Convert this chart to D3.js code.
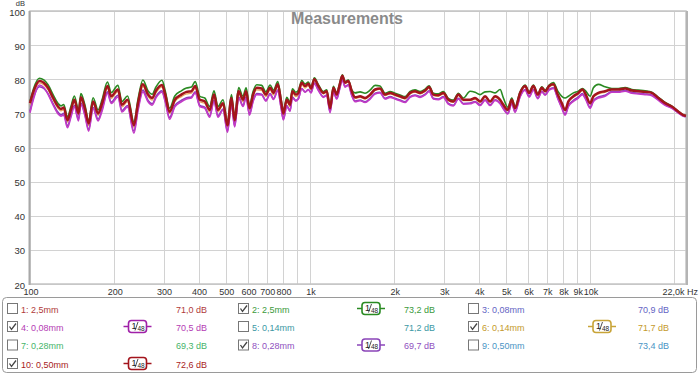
<!DOCTYPE html>
<html>
<head>
<meta charset="utf-8">
<script src="https://cdnjs.cloudflare.com/ajax/libs/d3/7.8.5/d3.min.js"></script>
<style>
  body { margin: 0; background: #fff; }
  text { font-family: "Liberation Sans", Arial, sans-serif; }
</style>
</head>
<body>
<svg id="chart" width="700" height="375"></svg>
<script>
// frequencies (Hz) shared by all traces
var freqs = [
  100, 103, 108, 112, 116, 121, 126, 129, 132, 136,
  140, 144, 149, 152, 157, 162, 168, 175, 181, 189,
  195, 206, 213, 223, 235, 243, 253, 264, 273, 282,
  296, 304, 315, 329, 347, 362, 377, 389, 404, 421,
  438, 454, 469, 489, 507, 524, 538, 556, 576, 591,
  608, 626, 645, 672, 695, 720, 740, 767, 788, 803,
  826, 848, 865, 889, 908, 934, 960, 986, 1008, 1036,
  1071, 1116, 1147, 1179, 1211, 1246, 1272, 1304, 1334, 1370,
  1409, 1448, 1509, 1572, 1638, 1707, 1778, 1853, 1931, 2012,
  2096, 2184, 2276, 2371, 2471, 2575, 2661, 2756, 2872, 2993,
  3118, 3249, 3386, 3528, 3728, 3884, 4047, 4217, 4394, 4578,
  4771, 4902, 5082, 5252, 5396, 5623, 5860, 6056, 6273, 6504,
  6723, 6908, 7139, 7396, 7667, 7924, 8142, 8366, 8717, 9082,
  9386, 9653, 10000, 10275, 10706, 11311, 11951, 12618, 13335, 14090,
  14876, 15720, 16611, 17538, 18532, 19581, 20673, 21540, 22000
];

// 10: 0,50mm
var m10 = [
  73.0, 76.5, 79.5, 79.0, 77.5, 74.5, 72.0, 71.3, 71.7, 68.0,
  71.0, 74.0, 70.0, 74.7, 71.5, 67.0, 73.5, 70.0, 73.0, 78.0,
  75.0, 77.0, 72.5, 74.0, 66.5, 73.0, 78.5, 75.5, 74.5, 76.7,
  78.3, 75.5, 70.5, 74.0, 75.5, 76.3, 76.5, 78.0, 74.0, 73.5,
  71.0, 75.5, 71.0, 73.0, 66.5, 74.5, 68.0, 76.5, 74.0, 76.5,
  71.5, 75.5, 77.5, 77.3, 75.5, 77.5, 76.0, 78.5, 73.5, 70.0,
  74.0, 72.5, 76.5, 75.5, 76.0, 79.0, 78.0, 78.7, 77.3, 80.0,
  78.0, 76.0, 76.5, 71.5, 77.5, 75.5, 78.0, 81.0, 79.0, 79.5,
  76.5, 74.7, 75.0, 74.5, 75.5, 77.0, 77.3, 75.5, 76.0, 75.5,
  75.0, 74.5, 76.0, 76.5, 76.0, 76.7, 77.7, 75.5, 75.3, 76.0,
  74.0, 73.5, 75.5, 74.0, 74.0, 74.5, 73.5, 75.0, 73.5, 75.0,
  74.0, 72.5, 71.0, 74.0, 71.5, 76.0, 78.0, 76.0, 78.0, 75.5,
  77.5, 76.5, 78.0, 78.5, 75.5, 73.0, 71.0, 73.5, 75.0, 76.0,
  77.0, 75.5, 73.0, 75.0, 76.0, 76.5, 77.0, 77.0, 77.3, 76.7,
  76.5, 76.3, 76.0, 74.5, 73.0, 72.0, 70.5, 69.5, 69.3
];

// 2: 2,5mm
var m2 = [
  73.5, 77.3, 80.3, 79.8, 78.4, 75.4, 72.9, 72.2, 72.6, 69.0,
  72.0, 75.1, 71.0, 75.8, 72.5, 68.0, 74.6, 71.0, 74.1, 79.2,
  76.1, 78.2, 73.5, 75.1, 67.5, 74.1, 79.8, 76.6, 75.6, 77.8,
  79.7, 76.6, 71.5, 75.1, 76.6, 77.4, 77.7, 79.3, 75.0, 74.5,
  72.0, 76.6, 72.0, 74.0, 67.5, 75.5, 69.0, 77.6, 75.0, 77.5,
  72.5, 76.4, 78.4, 78.2, 76.3, 78.3, 76.8, 79.3, 74.2, 70.7,
  74.7, 73.2, 77.2, 76.2, 76.7, 79.6, 78.6, 79.2, 77.7, 80.4,
  78.4, 76.4, 76.9, 71.9, 77.9, 75.9, 78.4, 81.3, 79.3, 79.8,
  76.9, 76.0, 76.3, 75.9, 76.8, 78.2, 78.0, 75.9, 76.4, 75.9,
  75.4, 74.9, 76.4, 76.9, 76.4, 77.1, 78.1, 75.9, 75.7, 76.4,
  74.4, 73.9, 75.9, 74.5, 76.5, 76.2, 75.5, 76.3, 76.4, 76.0,
  77.0, 74.5, 71.8, 74.5, 72.0, 76.3, 78.3, 76.3, 78.3, 75.8,
  77.8, 76.8, 78.3, 79.0, 76.5, 75.0, 74.5, 75.0, 76.0, 76.5,
  77.3, 76.5, 75.0, 77.5, 78.5, 77.8, 77.3, 77.3, 77.6, 77.0,
  76.8, 76.6, 76.2, 74.7, 73.2, 72.1, 70.6, 69.5, 69.3
];

// 6: 0,14mm
var m6 = [
  72.5, 75.9, 78.9, 78.4, 76.9, 73.9, 71.4, 70.7, 71.1, 67.4,
  70.4, 73.4, 69.4, 74.1, 70.9, 66.4, 72.9, 69.4, 72.4, 77.4,
  74.4, 76.4, 71.9, 73.4, 65.9, 72.4, 77.9, 74.9, 73.9, 76.1,
  77.7, 74.9, 69.9, 73.4, 74.9, 75.7, 75.9, 77.4, 73.4, 72.9,
  70.4, 74.9, 70.4, 72.4, 65.9, 73.9, 67.4, 75.9, 73.4, 75.9,
  70.9, 74.9, 76.9, 76.7, 74.9, 76.9, 75.4, 77.9, 72.9, 69.4,
  73.4, 71.9, 75.9, 74.9, 75.4, 78.4, 77.4, 78.1, 77.0, 79.7,
  77.7, 75.7, 76.2, 71.2, 77.2, 75.2, 77.7, 80.7, 78.7, 79.2,
  76.2, 74.4, 74.7, 74.2, 75.2, 76.7, 77.0, 75.2, 75.7, 75.2,
  74.7, 74.2, 75.7, 76.2, 75.7, 76.4, 77.4, 75.2, 75.0, 75.7,
  73.7, 73.2, 75.2, 73.7, 73.7, 74.2, 73.2, 74.7, 73.2, 74.7,
  73.7, 72.2, 70.8, 73.8, 71.3, 75.8, 77.8, 75.8, 77.8, 75.3,
  77.3, 76.3, 77.8, 78.3, 75.3, 72.7, 70.7, 73.2, 74.7, 75.7,
  76.7, 75.2, 72.7, 74.7, 75.7, 76.2, 77.2, 77.2, 77.5, 76.9,
  76.7, 76.5, 76.1, 74.6, 73.1, 72.0, 70.5, 69.5, 69.3
];

// 4: 0,08mm
var m4 = [
  70.2, 74.3, 78.3, 77.6, 75.6, 72.4, 69.8, 69.2, 69.5, 65.8,
  68.9, 71.9, 67.8, 72.6, 69.4, 64.8, 71.4, 67.8, 70.8, 75.9,
  72.9, 74.8, 70.4, 71.9, 64.2, 70.8, 76.3, 73.4, 72.4, 74.6,
  76.2, 73.4, 68.3, 71.9, 73.4, 74.2, 74.5, 76.0, 72.0, 71.5,
  68.9, 73.5, 68.9, 71.0, 64.4, 72.5, 66.0, 74.5, 72.0, 74.5,
  69.5, 73.5, 75.5, 75.4, 73.6, 75.6, 74.1, 76.6, 71.6, 68.1,
  72.1, 70.6, 74.6, 73.6, 74.2, 77.2, 76.2, 76.9, 76.0, 78.7,
  76.7, 74.7, 75.2, 70.2, 76.2, 74.2, 76.7, 79.7, 77.7, 78.2,
  75.2, 73.4, 73.7, 73.2, 74.2, 75.7, 76.0, 74.2, 74.7, 74.2,
  73.7, 73.2, 74.7, 75.2, 74.7, 75.4, 76.4, 74.2, 74.0, 74.7,
  72.7, 72.2, 74.2, 72.7, 72.8, 73.3, 72.3, 73.8, 72.3, 73.8,
  72.8, 71.3, 69.8, 72.8, 70.3, 74.8, 76.8, 74.8, 76.8, 74.3,
  76.3, 75.3, 76.8, 77.3, 74.3, 71.5, 69.5, 72.0, 73.5, 74.5,
  75.5, 74.0, 71.5, 73.5, 74.5, 75.0, 76.2, 76.2, 76.5, 75.9,
  75.7, 75.5, 75.2, 73.8, 72.4, 71.5, 70.1, 69.2, 69.1
];

// 8: 0,28mm
var m8 = [
  70.6, 74.7, 77.8, 77.3, 75.8, 72.8, 70.3, 69.6, 70.0, 66.3,
  69.3, 72.3, 68.3, 73.0, 69.8, 65.3, 71.8, 68.3, 71.3, 76.3,
  73.3, 75.3, 70.8, 72.3, 64.8, 71.3, 76.8, 73.8, 72.8, 75.0,
  76.6, 73.8, 68.8, 72.3, 73.8, 74.6, 74.8, 76.3, 72.3, 71.8,
  69.3, 73.8, 69.3, 71.3, 64.8, 72.8, 66.3, 74.8, 72.3, 74.8,
  69.8, 73.8, 75.8, 75.6, 73.8, 75.8, 74.3, 76.8, 71.8, 68.3,
  72.3, 70.8, 74.8, 73.8, 74.3, 77.3, 76.3, 77.0, 76.2, 78.9,
  76.9, 74.9, 75.4, 70.4, 76.4, 74.4, 76.9, 79.9, 77.9, 78.4,
  75.4, 73.6, 73.9, 73.4, 74.4, 75.9, 76.2, 74.4, 74.9, 74.4,
  73.9, 73.4, 74.9, 75.4, 74.9, 75.6, 76.6, 74.4, 74.2, 74.9,
  72.9, 72.4, 74.4, 72.9, 73.0, 73.5, 72.5, 74.0, 72.5, 74.0,
  73.0, 71.5, 70.0, 73.0, 70.5, 75.0, 77.0, 75.0, 77.0, 74.5,
  76.5, 75.5, 77.0, 77.5, 74.5, 71.8, 69.8, 72.3, 73.8, 74.8,
  75.8, 74.3, 71.8, 73.8, 74.8, 75.3, 76.4, 76.4, 76.7, 76.1,
  75.9, 75.7, 75.4, 74.0, 72.6, 71.6, 70.2, 69.2, 69.1
];

// axis ticks
var yTicks = [20, 30, 40, 50, 60, 70, 80, 90, 100];
var xGrid = [200, 300, 400, 500, 600, 700, 800, 900, 1000, 2000, 3000, 4000, 5000,
  6000, 7000, 8000, 9000, 10000, 20000];
var xTickVals = [100, 200, 300, 400, 500, 600, 700, 800, 1000, 2000, 3000, 4000, 5000,
  6000, 7000, 8000, 9000, 10000];
var xTickLabels = ["100", "200", "300", "400", "500", "600", "700", "800", "1k", "2k", "3k", "4k", "5k",
  "6k", "7k", "8k", "9k", "10k"];

// legend
var legNames = ["1: 2,5mm", "2: 2,5mm", "3: 0,08mm", "4: 0,08mm", "5: 0,14mm", "6: 0,14mm",
  "7: 0,28mm", "8: 0,28mm", "9: 0,50mm", "10: 0,50mm"];
var legDb = ["71,0 dB", "73,2 dB", "70,9 dB", "70,5 dB", "71,2 dB", "71,7 dB",
  "69,3 dB", "69,7 dB", "73,4 dB", "72,6 dB"];
var legColors = ["#b03a3a", "#3c9a3c", "#6464c4", "#b43cb4", "#3c98a4", "#c49a2c",
  "#46b46a", "#9050c0", "#4a94c4", "#a81c1c"];
var legChecked = [false, true, false, true, false, true, false, true, false, true];
var badgeColors = ["", "#2a8a22", "", "#a020a8", "", "#c8a438", "", "#8a44b8", "", "#a3141c"];

var svg = d3.select("#chart");

// plot area (note: "top" is taken by window.top)
var pL = 30, pR = 686, pT = 11, pB = 284;

var x = d3.scaleLog().domain([100, 22000]).range([pL, pR]);
var y = d3.scaleLinear().domain([20, 100]).range([pB, pT]);

// grid
var grid = svg.append("g");
grid.selectAll(".hg").data(yTicks).enter().append("line")
  .attr("x1", pL).attr("x2", pR)
  .attr("y1", function (d) { return Math.round(y(d)) + 0.5 })
  .attr("y2", function (d) { return Math.round(y(d)) + 0.5 })
  .attr("stroke", "#d2d2d2").attr("stroke-width", 1);
grid.selectAll(".vg").data(xGrid).enter().append("line")
  .attr("x1", function (d) { return Math.round(x(d)) + 0.5 })
  .attr("x2", function (d) { return Math.round(x(d)) + 0.5 })
  .attr("y1", pT).attr("y2", pB)
  .attr("stroke", "#d2d2d2").attr("stroke-width", 1);

// frame
svg.append("rect")
  .attr("x", pL).attr("y", pT).attr("width", pR - pL).attr("height", pB - pT)
  .attr("fill", "none").attr("stroke", "#c4c4c4").attr("stroke-width", 1.5);
svg.append("line").attr("x1", pL - 0.5).attr("x2", pL - 0.5).attr("y1", pT).attr("y2", pB + 1)
  .attr("stroke", "#a8a8a8").attr("stroke-width", 2);
svg.append("line").attr("x1", pR + 1).attr("x2", pR + 1).attr("y1", pT).attr("y2", pB + 1)
  .attr("stroke", "#b4b4b4").attr("stroke-width", 2);

// title
svg.append("text").attr("x", 347).attr("y", 24)
  .attr("text-anchor", "middle").style("font-size", "16px").style("font-weight", "bold")
  .style("fill", "#8a8a8a").text("Measurements");

// y labels
svg.append("g").selectAll("text").data(yTicks).enter().append("text")
  .attr("x", 25).attr("y", function (d) { return y(d) + 4.5 })
  .attr("text-anchor", "end").style("font-size", "9.5px").style("fill", "#333")
  .text(function (d) { return d });
svg.append("text").attr("x", 25).attr("y", 5.5).attr("text-anchor", "end")
  .style("font-size", "7.5px").style("fill", "#333").text("dB");

// x labels
svg.append("g").selectAll("text").data(xTickVals).enter().append("text")
  .attr("x", function (d) { return x(d) + 1 }).attr("y", 295)
  .attr("text-anchor", "middle").style("font-size", "9px").style("fill", "#333")
  .text(function (d, i) { return xTickLabels[i] });
svg.append("text").attr("x", 698).attr("y", 295).attr("text-anchor", "end")
  .style("font-size", "9px").style("fill", "#333").text("22,0k Hz");

// traces
var line = d3.line()
  .x(function (d) { return x(d[0]) })
  .y(function (d) { return y(d[1]) })
  .curve(d3.curveMonotoneX);

var traces = [
  { v: m6, c: "#eba45a", w: 1.2 },
  { v: m8, c: "#8a3cb8", w: 1.6 },
  { v: m4, c: "#c23ac6", w: 1.6 },
  { v: m2, c: "#2a8a22", w: 1.6 },
  { v: m10, c: "#a3141c", w: 2.5 }
];
svg.append("g").selectAll("path").data(traces).enter().append("path")
  .attr("d", function (t) { return line(d3.zip(freqs, t.v)) })
  .attr("fill", "none")
  .attr("stroke", function (t) { return t.c })
  .attr("stroke-width", function (t) { return t.w })
  .attr("stroke-linejoin", "round");

// legend box
svg.append("rect").attr("x", 2.5).attr("y", 297.5).attr("width", 694).attr("height", 75)
  .attr("rx", 4).attr("fill", "#fff").attr("stroke", "#9a9a9a");

var colCheck = [7, 238, 468];
var colBadge = [137.5, 371, 602];
var colDb = [176, 404, 638];
var rowY = [309, 327, 345.5, 364];

var items = legNames.map(function (n, i) { return { i: i, name: n } });

var leg = svg.append("g").selectAll("g").data(items).enter().append("g")
  .attr("transform", function (d) { return "translate(0," + rowY[Math.floor(d.i / 3)] + ")" });

leg.append("rect")
  .attr("x", function (d) { return colCheck[d.i % 3] + 0.5 }).attr("y", -5.5)
  .attr("width", 10).attr("height", 10)
  .attr("fill", "#fff").attr("stroke", "#777");
leg.filter(function (d) { return legChecked[d.i] }).append("path")
  .attr("d", function (d) {
    var cx = colCheck[d.i % 3];
    return "M" + (cx + 2.5) + ",-0.5 L" + (cx + 4.5) + ",2.5 L" + (cx + 9) + ",-3.5";
  })
  .attr("fill", "none").attr("stroke", "#444").attr("stroke-width", 1.3);

leg.append("text")
  .attr("x", function (d) { return colCheck[d.i % 3] + 14 }).attr("y", 3.5)
  .style("font-size", "9px").style("fill", function (d) { return legColors[d.i] })
  .text(function (d) { return d.name });

leg.append("text")
  .attr("x", function (d) { return colDb[d.i % 3] }).attr("y", 3.5)
  .style("font-size", "9px").style("fill", function (d) { return legColors[d.i] })
  .text(function (d) { return legDb[d.i] });

// smoothing badges
var badge = leg.filter(function (d) { return legChecked[d.i] }).append("g")
  .attr("transform", function (d) { return "translate(" + colBadge[d.i % 3] + ",0)" });
badge.append("line").attr("x1", -14).attr("x2", 14).attr("y1", -0.5).attr("y2", -0.5)
  .attr("stroke", function (d) { return badgeColors[d.i] }).attr("stroke-width", 1.5);
badge.append("rect").attr("x", -9).attr("y", -6.5).attr("width", 18).attr("height", 12).attr("rx", 3)
  .attr("fill", "#fff")
  .attr("stroke", function (d) { return badgeColors[d.i] }).attr("stroke-width", 1.6);
badge.append("text").attr("x", -6).attr("y", 2).style("font-size", "9px").style("fill", "#222").text("1");
badge.append("line").attr("x1", -2.5).attr("x2", 0.5).attr("y1", 3.5).attr("y2", -5)
  .attr("stroke", "#222").attr("stroke-width", 0.8);
badge.append("text").attr("x", 0).attr("y", 3.5).style("font-size", "6.5px").style("fill", "#222").text("48");
</script>
</body>
</html>
